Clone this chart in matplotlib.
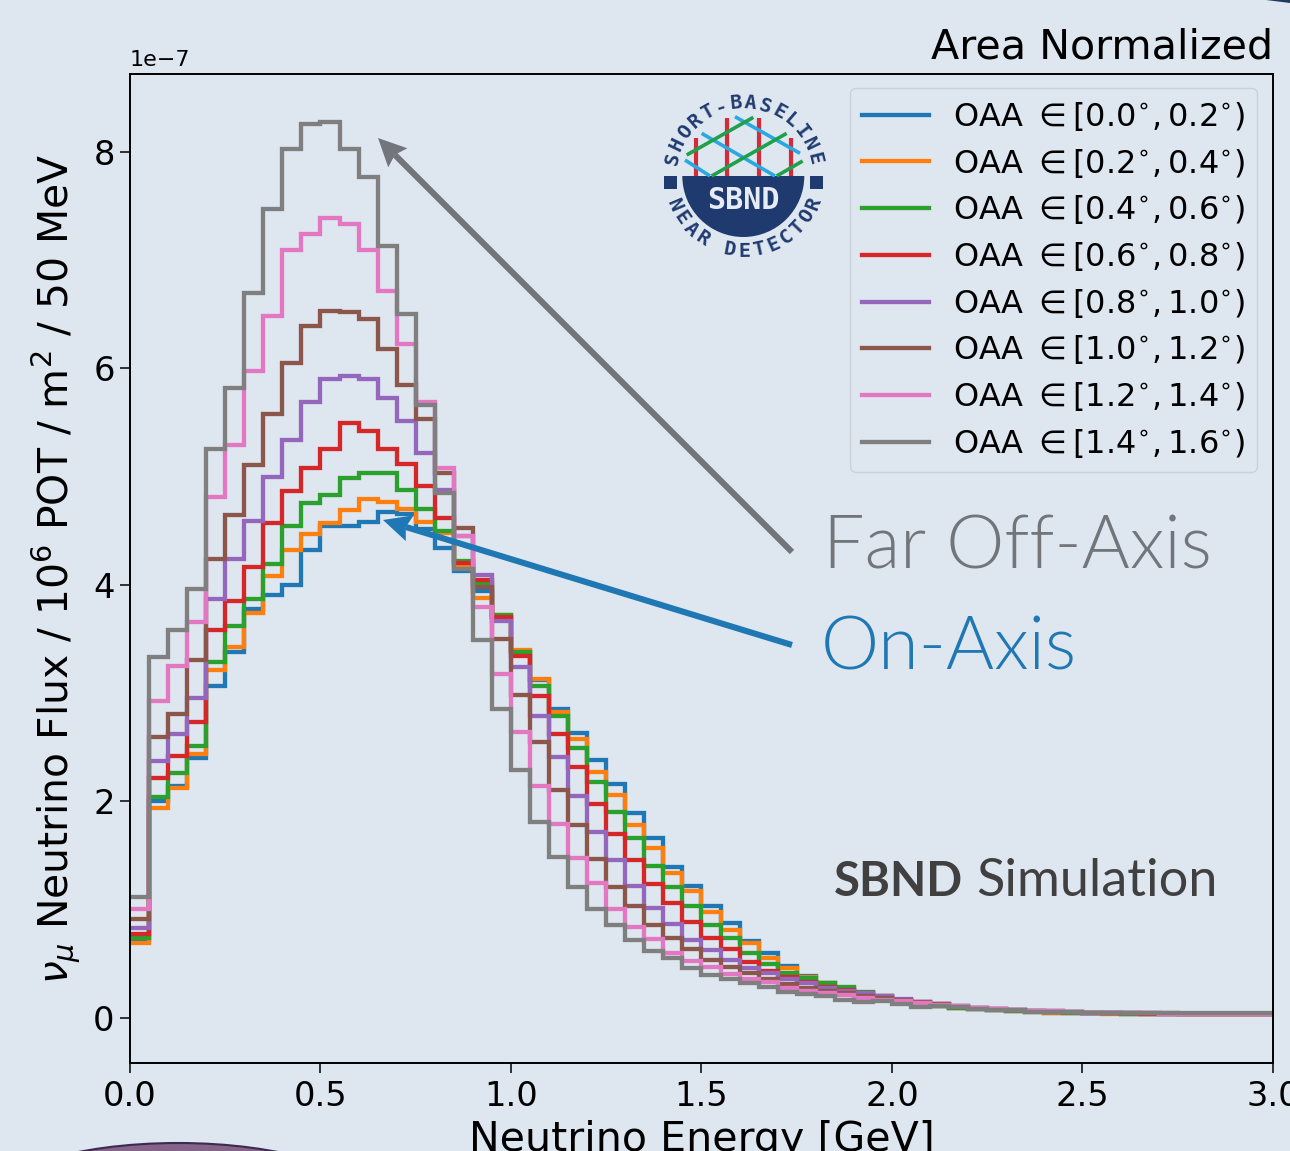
import math
import matplotlib
matplotlib.use("Agg")
import matplotlib.pyplot as plt
import numpy as np
from matplotlib.patches import Ellipse, Wedge, Rectangle, Polygon

BG = "#DEE6F0"
NAVY = "#1F3A6E"

bin_edges = np.arange(61) * 0.05
x_ticks = [0.0, 0.5, 1.0, 1.5, 2.0, 2.5, 3.0]
y_ticks = [0, 2, 4, 6, 8]
oaa_edges = ["0.0", "0.2", "0.4", "0.6", "0.8", "1.0", "1.2", "1.4", "1.6"]
colors = ["#1f77b4", "#ff7f0e", "#2ca02c", "#d62728", "#9467bd", "#8c564b", "#e377c2", "#7f7f7f"]

flux_00 = [0.72,2.00,2.14,2.40,3.07,3.38,3.78,3.91,4.00,4.32,4.54,4.54,4.58,4.67,4.66,4.52,4.34,4.13,3.94,3.70,
           3.39,3.12,2.85,2.63,2.38,2.16,1.89,1.66,1.39,1.22,1.03,0.88,0.71,0.60,0.48,0.39,0.32,0.27,0.23,0.19,
           0.16,0.13,0.11,0.09,0.08,0.07,0.065,0.055,0.05,0.05,0.045,0.045,0.04,0.04,0.04,0.035,0.035,0.04,0.04,0.035]
flux_02 = [0.69,1.94,2.12,2.44,3.21,3.43,3.74,4.08,4.32,4.47,4.57,4.69,4.79,4.77,4.70,4.58,4.48,4.17,3.88,3.72,
           3.40,3.13,2.83,2.58,2.27,2.06,1.78,1.57,1.34,1.17,0.98,0.81,0.69,0.55,0.46,0.38,0.32,0.28,0.23,0.19,
           0.16,0.135,0.11,0.09,0.08,0.07,0.065,0.055,0.05,0.05,0.045,0.04,0.04,0.04,0.04,0.04,0.035,0.04,0.035,0.035]
flux_04 = [0.74,2.04,2.26,2.51,3.29,3.62,3.87,4.19,4.54,4.76,4.83,4.99,5.03,5.03,4.88,4.70,4.50,4.22,4.02,3.72,
           3.38,3.07,2.79,2.49,2.18,1.90,1.66,1.40,1.21,1.03,0.86,0.74,0.60,0.50,0.42,0.37,0.32,0.29,0.24,0.20,
           0.165,0.14,0.115,0.095,0.085,0.075,0.065,0.06,0.055,0.05,0.045,0.045,0.04,0.04,0.04,0.04,0.04,0.04,0.04,0.035]
flux_06 = [0.78,2.22,2.42,2.73,3.58,3.85,4.17,4.57,4.87,5.08,5.26,5.50,5.42,5.26,5.12,4.91,4.62,4.20,4.05,3.70,
           3.34,2.97,2.62,2.32,1.98,1.70,1.46,1.24,1.06,0.89,0.74,0.64,0.52,0.43,0.38,0.33,0.29,0.26,0.23,0.20,
           0.17,0.145,0.125,0.10,0.09,0.08,0.07,0.06,0.055,0.055,0.05,0.045,0.045,0.04,0.04,0.04,0.04,0.04,0.04,0.04]
flux_08 = [0.83,2.37,2.62,2.96,3.87,4.24,4.59,5.00,5.34,5.69,5.90,5.93,5.90,5.73,5.51,5.22,4.88,4.45,4.09,3.67,
           3.24,2.79,2.41,2.05,1.72,1.46,1.22,1.02,0.87,0.72,0.63,0.54,0.46,0.42,0.36,0.32,0.28,0.25,0.23,0.20,
           0.175,0.15,0.13,0.11,0.095,0.085,0.075,0.065,0.06,0.055,0.05,0.05,0.045,0.045,0.04,0.04,0.04,0.04,0.04,0.04]
flux_10 = [0.91,2.60,2.81,3.31,4.24,4.65,5.11,5.58,6.05,6.39,6.53,6.52,6.46,6.18,5.85,5.53,5.03,4.53,3.98,3.50,
           2.98,2.55,2.11,1.78,1.47,1.21,1.03,0.86,0.74,0.64,0.54,0.47,0.42,0.36,0.31,0.28,0.25,0.23,0.20,0.18,
           0.17,0.145,0.125,0.11,0.095,0.085,0.075,0.065,0.06,0.055,0.05,0.05,0.045,0.045,0.045,0.04,0.04,0.04,0.04,0.04]
flux_12 = [1.01,2.93,3.25,3.66,4.81,5.29,5.98,6.48,7.09,7.24,7.39,7.33,7.09,6.72,6.23,5.69,5.08,4.45,3.80,3.18,
           2.64,2.14,1.79,1.48,1.25,1.01,0.84,0.73,0.60,0.53,0.47,0.41,0.36,0.33,0.28,0.25,0.23,0.21,0.18,0.17,
           0.155,0.135,0.12,0.11,0.095,0.08,0.07,0.065,0.06,0.055,0.05,0.05,0.045,0.045,0.04,0.04,0.04,0.04,0.035,0.035]
flux_14 = [1.12,3.33,3.58,3.96,5.26,5.82,6.70,7.47,8.03,8.26,8.28,8.03,7.77,7.13,6.50,5.66,4.85,4.15,3.49,2.85,
           2.29,1.81,1.49,1.21,1.01,0.86,0.72,0.62,0.55,0.46,0.40,0.36,0.32,0.29,0.24,0.22,0.20,0.165,0.15,0.155,
           0.13,0.105,0.11,0.105,0.083,0.074,0.07,0.058,0.056,0.055,0.05,0.05,0.05,0.05,0.05,0.05,0.05,0.045,0.045,0.05]
series = [flux_00, flux_02, flux_04, flux_06, flux_08, flux_10, flux_12, flux_14]

plt.rcParams.update({
    "font.family": "DejaVu Sans",
    "mathtext.fontset": "dejavusans",
    "figure.facecolor": BG,
    "axes.facecolor": BG,
    "savefig.facecolor": BG,
})

W, H = 1290, 1151
fig = plt.figure(figsize=(W / 100, H / 100), dpi=100)
L, R, T, B = 130, 1273, 74, 1063
ax = fig.add_axes([L / W, 1 - B / H, (R - L) / W, (B - T) / H])

for i, (vals, col) in enumerate(zip(series, colors)):
    ax.stairs(np.array(vals) * 1e-7, bin_edges, color=col, lw=3.1, baseline=None,
              label=rf"OAA $\in [{oaa_edges[i]}^{{\circ}}, {oaa_edges[i + 1]}^{{\circ}})$")

ax.set_xlim(0, 3)
ax.set_ylim(-0.416e-7, 8.72e-7)
ax.set_xticks(x_ticks)
ax.set_yticks([v * 1e-7 for v in y_ticks])
ax.tick_params(labelsize=24.2, length=7, width=1.1)
ax.tick_params(axis="x", pad=5)
ax.tick_params(axis="y", pad=4)
ax.yaxis.get_offset_text().set_fontsize(16)
ax.yaxis.OFFSETTEXTPAD = 6
for s in ax.spines.values():
    s.set_linewidth(1.4)
ax.set_xlabel("Neutrino Energy [GeV]", fontsize=29.6, labelpad=5)
ax.set_ylabel(r"$\nu_\mu$ Neutrino Flux / $10^6$ POT / m$^2$ / 50 MeV", fontsize=29.4, labelpad=7)
ax.set_title("Area Normalized", loc="right", fontsize=29.7, pad=11.5)

leg = ax.legend(loc="upper right", bbox_to_anchor=((1257 - L) / (R - L), (B - 88) / (B - T)),
                borderaxespad=0, fontsize=23.0, handlelength=2.1, handletextpad=0.75,
                labelspacing=0.43, borderpad=0.37, framealpha=0.8, facecolor=BG, edgecolor="#c6ccd3")

ov = fig.add_axes([0, 0, 1, 1], facecolor="none")
ov.set_xlim(0, W)
ov.set_ylim(H, 0)
ov.axis("off")

GRAY = "#72767B"
BLUE = "#1F77B4"

def arrow(tip, tail, color, head_len=28, head_hw=13.5):
    tip, tail = np.array(tip, float), np.array(tail, float)
    u = (tail - tip) / np.linalg.norm(tail - tip)
    n = np.array([-u[1], u[0]])
    base = tip + u * head_len
    notch = tip + u * head_len * 0.85
    ov.plot([notch[0], tail[0]], [notch[1], tail[1]], color=color, lw=4.4, solid_capstyle="butt")
    ov.add_patch(Polygon([tip, base + n * head_hw, notch, base - n * head_hw], fc=color, ec="none"))

arrow((378, 138), (792, 552), GRAY)
arrow((383, 520), (792, 645), BLUE)
ov.text(823, 568, "Far Off-Axis", color=GRAY, fontsize=53, family="Lato", weight=300, va="baseline")
ov.text(821, 669, "On-Axis", color=BLUE, fontsize=53, family="Lato", weight=300, va="baseline")
ov.text(834, 896, "SBND", color="#404040", fontsize=34, family="Lato", weight="bold", va="baseline")
ov.text(976, 896, "Simulation", color="#404040", fontsize=37.6, family="Lato", va="baseline")

# logo
cx, cy, rad = 743.3, 176, 61
def zp(zx, zy):
    return 650 + zx / 3, 80 + zy / 3
for zx, zy in [(137, 175), (232, 115), (327, 115), (423, 175)]:
    x0, y0 = zp(zx, 288)
    x1, y1 = zp(zx, zy)
    ov.plot([x0, x1], [y0, y1], color="#D42A3A", lw=3.0, solid_capstyle="butt")
for a, b in [((105, 240), (180, 288)), ((155, 160), (375, 288)), ((255, 110), (450, 220))]:
    p, q = zp(*a), zp(*b)
    ov.plot([p[0], q[0]], [p[1], q[1]], color="#2AA8E0", lw=2.6, solid_capstyle="butt")
for a, b in [((110, 225), (310, 112)), ((185, 288), (410, 160)), ((380, 288), (458, 243))]:
    p, q = zp(*a), zp(*b)
    ov.plot([p[0], q[0]], [p[1], q[1]], color="#1FA04A", lw=2.6, solid_capstyle="butt")
ov.add_patch(Wedge((cx, cy), rad, 0, 180, fc=NAVY, ec="none"))
ov.add_patch(Rectangle((663.5, 176), 13, 12.5, fc=NAVY, ec="none"))
ov.add_patch(Rectangle((810, 176), 13, 12.5, fc=NAVY, ec="none"))
ov.text(cx, 200.5, "SBND", color="#E6ECF3", fontsize=21.6, family="DejaVu Sans Mono", weight="bold",
        ha="center", va="center")

def ring(txt, a0, a1, radius, top):
    for k, ch in enumerate(txt):
        a = math.radians(a0 + (a1 - a0) * k / (len(txt) - 1))
        x = cx + radius * math.cos(a)
        y = cy - radius * math.sin(a)
        rot = math.degrees(a) - 90 if top else math.degrees(a) + 90
        ov.text(x, y, ch, color=NAVY, fontsize=14.5, family="DejaVu Sans Mono", weight="bold",
                ha="center", va="center", rotation=rot, rotation_mode="anchor")
ring("SHORT-BASELINE", 166, 14, 73, True)
ring("NEAR DETECTOR", -157, -21, 75, False)

# page decorations cut by the slide edge
ov.add_patch(Ellipse((178, 1205), 384, 124, fc="#846488", ec="#3E2A50", lw=1.5))
ov.add_patch(Polygon([(1266, 0), (1290, 0), (1290, 3)], fc="#1F3A5E", ec="none"))

fig.savefig("out.png", dpi=100)
